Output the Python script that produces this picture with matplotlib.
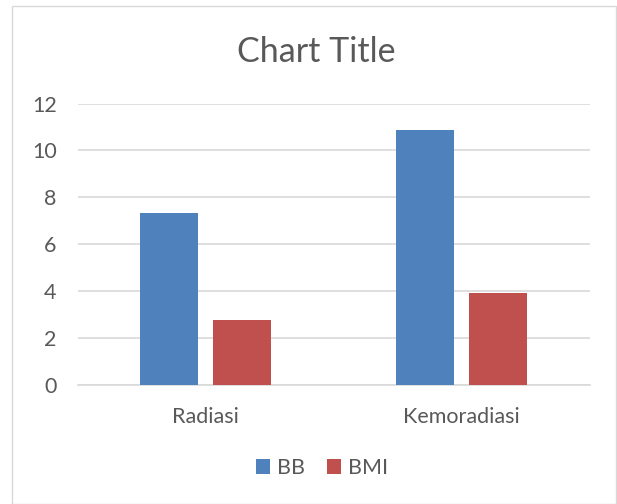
import numpy as np
import matplotlib.pyplot as plt
from matplotlib.patches import Rectangle

categories = ['Radiasi', 'Kemoradiasi']
bb = [7.35, 10.85]
bmi = [2.77, 3.94]
yticks = [0, 2, 4, 6, 8, 10, 12]

plt.rcParams['font.family'] = ['Lato', 'DejaVu Sans']
txt = '#595959'

fig = plt.figure(figsize=(6.17, 5.04), dpi=100)
W, H = 617, 504
ax = fig.add_axes([77.5 / W, 1 - 385 / H, 512 / W, (385 - 103.5) / H])

x = np.arange(len(categories))
w = 0.224
off = 0.1426
ax.bar(x - off, bb, w, color='#4F81BD', label='BB', zorder=3)
ax.bar(x + off, bmi, w, color='#C0504D', label='BMI', zorder=3)

ax.set_xlim(-0.5, 1.5)
ax.set_ylim(0, 12)
ax.set_yticks(yticks)
ax.set_xticks(x)
ax.set_xticklabels(categories)
ax.grid(axis='y', color='#d9d9d9', linewidth=1.2, zorder=0)
for s in ['top', 'right', 'left']:
    ax.spines[s].set_visible(False)
ax.spines['bottom'].set_color('#d9d9d9')
ax.spines['bottom'].set_linewidth(1.2)
ax.tick_params(axis='both', length=0, labelsize=15.5, colors=txt)
ax.tick_params(axis='y', pad=15)
ax.tick_params(axis='x', pad=16)

fig.text(316 / W, 1 - 52 / H, 'Chart Title', ha='center', va='center',
         fontsize=24.5, color=txt)

leg = fig.legend(loc='center', bbox_to_anchor=(322 / W, 1 - 468 / H), ncol=2,
                 frameon=False, fontsize=15.5, handlelength=0.65, handleheight=0.65,
                 handletextpad=0.35, columnspacing=1.0)
for t in leg.get_texts():
    t.set_color(txt)

fig.patches.append(Rectangle((12 / W, 0.5 / H), (W - 13) / W, (H - 6) / H,
                             transform=fig.transFigure, fill=False,
                             edgecolor='#d9d9d9', linewidth=1))

fig.savefig('out.png', dpi=100)
